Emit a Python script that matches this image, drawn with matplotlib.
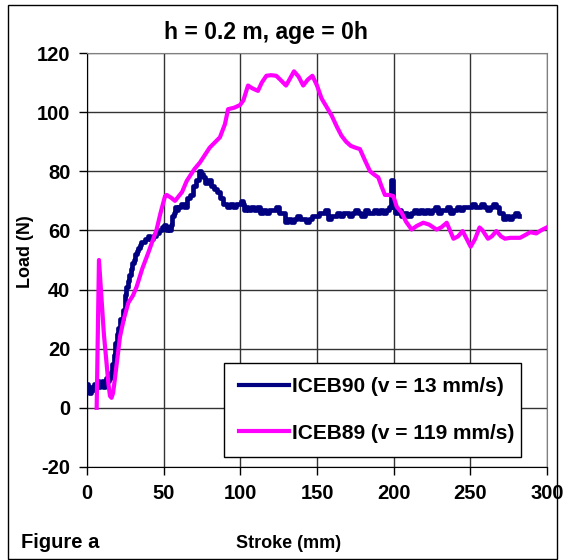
import matplotlib
matplotlib.use('Agg')
import matplotlib.pyplot as plt
from matplotlib.patches import Rectangle

plt.rcParams['font.family'] = ['Liberation Sans', 'DejaVu Sans']
plt.rcParams['font.weight'] = 'bold'
plt.rcParams['axes.unicode_minus'] = False

# ICEB90 (v = 13 mm/s)
blue_x = [0, 1, 2, 3, 4, 5, 6, 7, 8, 9, 10, 11, 12, 13, 14, 15, 16, 17, 18, 19,
          20, 21, 22, 23, 24, 25, 26, 27, 28, 29, 30, 31, 32, 33, 34, 35, 36, 37, 38, 39,
          40, 42, 44, 46, 48, 50, 51, 52, 53, 54, 55, 56, 57, 58, 59, 60, 62, 64, 66, 68,
          70, 72, 74, 75, 76, 78, 80, 82, 84, 86, 88, 90, 92, 94, 96, 98, 100, 101, 102, 103,
          104, 106, 108, 110, 112, 114, 116, 118, 120, 122, 124, 126, 128, 130, 132, 134, 136, 138, 140, 142,
          144, 146, 148, 150, 152, 154, 156, 158, 160, 162, 164, 166, 168, 170, 172, 174, 176, 178, 180, 182,
          184, 186, 188, 190, 192, 194, 196, 198, 199, 200, 202, 204, 206, 208, 210, 212, 214, 216, 218, 220,
          222, 224, 226, 228, 230, 232, 234, 236, 238, 240, 242, 244, 246, 248, 250, 252, 254, 256, 258, 260,
          262, 264, 266, 268, 270, 272, 274, 276, 278, 280, 282]
blue_y = [8, 6, 5, 7, 6, 8, 7, 9, 7, 8, 9, 7, 8, 10, 9, 10, 12, 15, 18, 22,
          25, 27, 30, 30, 33, 38, 41, 43, 45, 47, 49, 50, 52, 53, 54, 55, 56, 56, 57, 57,
          58, 57, 58, 59, 60, 61, 62, 60, 61, 60, 62, 65, 66, 68, 67, 68, 69, 68, 71, 72,
          75, 77, 80, 79, 78, 76, 77, 75, 74, 73, 71, 69, 68, 69, 68, 69, 69, 70, 69, 67,
          68, 67, 68, 67, 68, 66, 67, 66, 67, 67, 68, 66, 66, 63, 64, 63, 64, 65, 64, 64,
          63, 64, 65, 65, 66, 66, 67, 64, 65, 65, 66, 65, 66, 66, 65, 66, 67, 66, 65, 67,
          66, 66, 67, 66, 67, 66, 67, 68, 77, 68, 66, 67, 65, 66, 65, 66, 67, 66, 67, 66,
          67, 66, 67, 68, 66, 67, 67, 68, 66, 67, 68, 67, 68, 68, 68, 69, 68, 68, 69, 68,
          67, 68, 69, 68, 66, 64, 65, 64, 65, 66, 65]

# ICEB89 (v = 119 mm/s)
pink_x = [6.3, 7.8, 11, 14, 15, 16, 17, 18, 21.5, 24, 27, 30, 32.4, 36, 40, 45.4, 48, 50.9, 52, 55,
          57.4, 62, 65, 70, 73.7, 80, 86.7, 90, 92, 96, 99.8, 102, 105, 108, 111.5, 114, 117, 120, 123.4, 126,
          129.8, 132, 135, 138, 141, 144, 147, 150, 153, 156, 159.6, 163, 166, 169, 172, 175, 178, 181, 184.6, 187,
          190, 192, 194.3, 197, 199.8, 202, 205.2, 208, 211.7, 215, 219.3, 223, 228, 231, 234.6, 239, 242, 245, 250.2, 253,
          256, 258, 261.5, 264, 267, 270, 272.6, 276, 282.4, 286, 289, 293, 296, 299.8]
pink_y = [0, 50, 25, 8, 4, 3.4, 5, 9, 24, 30, 35.6, 38, 41, 47, 52.5, 60.3, 66, 71.6, 72, 71,
          70, 73, 76.7, 80.7, 83, 88, 91.5, 96, 101, 101.5, 102.4, 104, 109, 108, 107.2, 110, 112.3, 112.5, 112.3, 111,
          109, 111, 113.8, 112, 109, 111, 112.3, 109, 104.6, 102, 98.8, 95, 92, 90, 88.6, 88, 87.5, 84, 80, 79,
          77.9, 75, 72, 72, 71.6, 68, 66, 63, 60.3, 61.5, 62.6, 62, 60.3, 61, 62.6, 57.2, 58, 59.8, 54.5, 57,
          61, 60, 57.2, 58, 59.8, 58, 57.2, 57.5, 57.5, 58.5, 59.4, 59, 60, 61]

x_ticks = [0, 50, 100, 150, 200, 250, 300]
y_ticks = [-20, 0, 20, 40, 60, 80, 100, 120]

W, H = 565, 560
fig = plt.figure(figsize=(W / 100, H / 100), dpi=100)
ax = fig.add_axes([87 / W, 1 - 467 / H, 460 / W, 414 / H])

ax.plot(blue_x, blue_y, color='#000080', lw=3.4, drawstyle='steps-mid',
        label='ICEB90 (v = 13 mm/s)', zorder=3)
ax.plot(pink_x, pink_y, color='#ff00ff', lw=3, label='ICEB89 (v = 119 mm/s)', zorder=3)

ax.set_xlim(0, 300)
ax.set_ylim(-20, 120)
ax.set_xticks(x_ticks)
ax.set_yticks(y_ticks)
ax.grid(True, color='#333333', lw=1)
ax.set_axisbelow(True)
ax.tick_params(direction='out', length=6, width=1, labelsize=14.5, pad=6)
for lab in ax.get_xticklabels() + ax.get_yticklabels():
    lab.set_fontweight('bold')
ax.spines['top'].set_color('#808080')
ax.spines['right'].set_color('#808080')
ax.spines['left'].set_color('black')
ax.spines['bottom'].set_color('black')

leg = ax.legend(loc='center', bbox_to_anchor=(137 / 460, 8 / 414, 297 / 460, 98 / 414),
                mode='expand', fontsize=15, frameon=True, fancybox=False,
                handlelength=2.4, handletextpad=0.15, labelspacing=1.3, borderpad=0.7,
                borderaxespad=0)
leg.get_frame().set_edgecolor('black')
leg.get_frame().set_linewidth(1)
leg.get_frame().set_alpha(1)
for t in leg.get_texts():
    t.set_fontweight('bold')
for h in leg.get_lines():
    h.set_linewidth(3)

fig.text(266 / W, 1 - 33 / H, 'h = 0.2 m, age = 0h', ha='center', va='center',
         fontsize=16.5, fontweight='bold')
fig.text(289 / W, 1 - 543 / H, 'Stroke (mm)', ha='center', va='center',
         fontsize=13, fontweight='bold')
fig.text(25 / W, 1 - 252 / H, 'Load (N)', ha='center', va='center', rotation=90,
         fontsize=13, fontweight='bold')
fig.text(21 / W, 1 - 543 / H, 'Figure a', ha='left', va='center',
         fontsize=14.5, fontweight='bold')

fig.patches.append(Rectangle((8 / W, 1 - 559 / H), 549 / W, 554 / H, transform=fig.transFigure,
                             fill=False, edgecolor='black', lw=1))

fig.savefig('out.png', dpi=100)
